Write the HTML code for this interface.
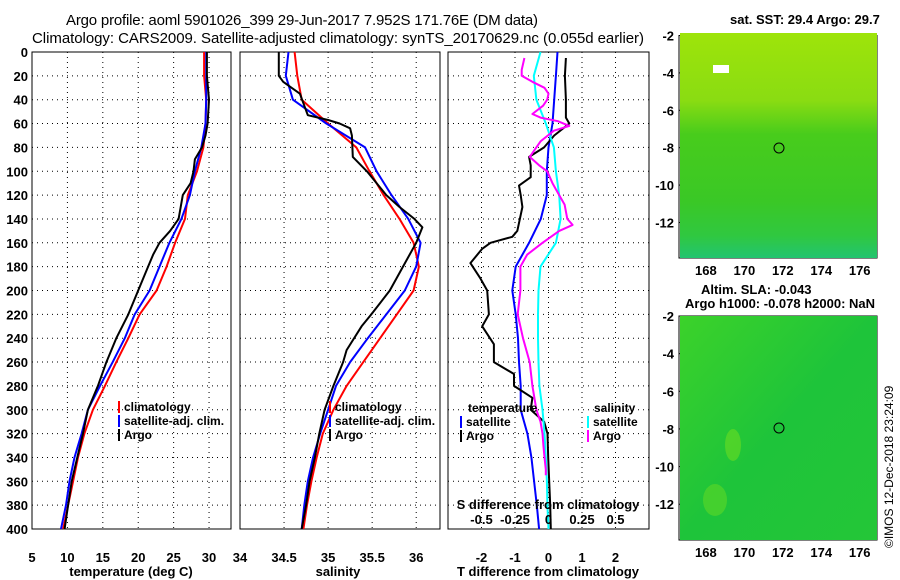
<!DOCTYPE html>
<html><head><meta charset="utf-8"><style>
html,body{margin:0;padding:0;background:#fff;}
svg{display:block;font-family:"Liberation Sans",sans-serif;}
.tk{font-size:13px;font-weight:bold;fill:#000;}
.lg{font-size:12px;font-weight:bold;fill:#000;}
</style></head><body>
<svg id="chart" width="900" height="580" viewBox="0 0 900 580">
<defs>
<linearGradient id="sstg" x1="0" y1="0" x2="0" y2="1">
<stop offset="0" stop-color="#9ee40a"/><stop offset="0.3" stop-color="#8adc12"/><stop offset="0.45" stop-color="#48cc1c"/><stop offset="0.75" stop-color="#3ac826"/><stop offset="0.9" stop-color="#30c840"/><stop offset="1" stop-color="#22c470"/>
</linearGradient>
<linearGradient id="slag" x1="0" y1="0" x2="1" y2="1">
<stop offset="0" stop-color="#3cd22a"/><stop offset="0.5" stop-color="#1ec43a"/><stop offset="1" stop-color="#24c638"/>
</linearGradient>
</defs>
<text x="66" y="25" font-size="15" textLength="472">Argo profile: aoml 5901026_399 29-Jun-2017 7.952S 171.76E (DM data)</text>
<text x="32" y="43" font-size="15" textLength="612">Climatology: CARS2009. Satellite-adjusted climatology: synTS_20170629.nc (0.055d earlier)</text>
<g id="plots"></g>
<g>
<text x="730" y="24" font-size="13" font-weight="bold">sat. SST: 29.4 Argo: 29.7</text>
<rect x="680" y="33" width="197" height="225" fill="url(#sstg)"/>
<rect x="713" y="65" width="16" height="8" fill="#fff"/>
<circle cx="779" cy="148" r="5" fill="none" stroke="#000"/>
</g>
<g>
<text x="701" y="294" font-size="13" font-weight="bold">Altim. SLA: -0.043</text>
<text x="685" y="308" font-size="13" font-weight="bold">Argo h1000: -0.078 h2000: NaN</text>
<rect x="680" y="316" width="197" height="224" fill="url(#slag)"/>
<ellipse cx="733" cy="445" rx="8" ry="16" fill="#6adc22" opacity="0.6"/>
<ellipse cx="715" cy="500" rx="12" ry="16" fill="#6adc22" opacity="0.5"/>
<circle cx="779" cy="428" r="5" fill="none" stroke="#000"/>
</g>
<text transform="translate(893,548) rotate(-90)" font-size="12">©IMOS 12-Dec-2018 23:24:09</text>
</svg>
<script>
const depths=[0,20,40,60,80,100,120,140,160,180,200,220,240,260,280,300,320,340,360,380,400];
const tempClim=[29.3,29.3,29.6,29.5,29.2,28.3,27.0,26.6,25.2,24.0,22.6,20.2,18.6,16.9,15.3,13.6,12.4,11.5,10.8,10.1,9.4];
const tempSat=[29.6,29.6,29.6,29.5,28.9,28.0,27.3,26.1,24.4,23.0,21.6,19.5,18.1,16.4,14.6,12.9,12.0,11.0,10.3,9.8,9.1];
const argoDepths=[0,20,40,60,70,80,90,100,110,120,140,150,160,170,180,200,220,240,260,280,300,320,340,360,380,400];
const tempArgo=[29.7,29.7,30.0,29.8,29.5,29.0,28.0,27.8,27.4,26.3,25.7,24.5,23.0,22.1,21.4,20.0,18.6,16.9,15.5,14.3,12.9,12.2,11.4,10.6,10.1,9.6];
const salClim=[34.62,34.65,34.70,35.0,35.32,35.47,35.63,35.81,35.97,36.03,35.97,35.78,35.59,35.40,35.21,35.06,34.94,34.87,34.81,34.76,34.72];
const salSat=[34.55,34.52,34.60,34.98,35.42,35.55,35.72,35.91,36.05,36.00,35.87,35.66,35.45,35.25,35.09,35.0,34.91,34.83,34.77,34.73,34.70];
const salArgoDepths=[0,20,25,35,45,53,57,60,64,70,88,100,120,130,140,147,160,180,200,220,230,250,260,280,300,320,340,360,380,400];
const salArgo=[34.44,34.44,34.49,34.68,34.73,34.77,35.0,35.13,35.25,35.27,35.28,35.44,35.66,35.81,35.98,36.07,36.0,35.85,35.70,35.49,35.38,35.21,35.17,35.06,34.96,34.90,34.85,34.79,34.75,34.70];
const dTSat=[0.27,0.22,0.17,0.12,0,-0.05,-0.05,-0.23,-0.58,-0.98,-1.08,-0.98,-0.91,-0.88,-0.83,-0.83,-0.63,-0.51,-0.43,-0.35,-0.28];
const dTArgoDepths=[5,20,40,55,60,70,80,88,95,105,112,120,130,150,155,160,165,177,190,200,220,230,245,260,270,280,290,300,310,320,340,360,380,400];
const dTArgo=[0.52,0.49,0.52,0.52,0.62,0.17,-0.13,-0.58,-0.53,-0.53,-0.88,-0.83,-0.78,-0.93,-1.08,-1.73,-1.98,-2.33,-2.03,-1.83,-1.78,-1.98,-1.63,-1.63,-1.03,-1.03,-0.48,-0.53,-0.13,-0.03,-0.01,0.02,0.05,0.07];
const dSSat=[-0.06,-0.11,-0.09,-0.02,0.04,0.055,0.08,0.09,0.055,-0.06,-0.075,-0.078,-0.078,-0.075,-0.068,-0.045,-0.03,-0.02,-0.012,-0.008,0];
const dSArgoDepths=[5,15,20,25,30,35,40,45,52,55,58,62,66,75,88,95,100,110,120,128,140,145,150,160,170,180,200,220,240,260,280,300,310,320,330,340,350,355];
const dSArgo=[-0.18,-0.2,-0.2,-0.12,-0.03,0,-0.01,-0.04,-0.12,-0.06,0.07,0.155,0.04,-0.06,-0.14,-0.07,-0.01,0.03,0.08,0.12,0.14,0.18,0.08,-0.045,-0.16,-0.21,-0.21,-0.23,-0.19,-0.14,-0.12,-0.09,-0.06,-0.045,-0.038,-0.03,-0.02,-0.02];
const depthTicks=[0,20,40,60,80,100,120,140,160,180,200,220,240,260,280,300,320,340,360,380,400];
const tempTicks=[5,10,15,20,25,30];
const salTicks=[34,34.5,35,35.5,36];
const dTTicks=[-2,-1,0,1,2];
const dSTicks=[-0.5,-0.25,0,0.25,0.5];
const dSTickLabels=["-0.5","-0.25","0","0.25","0.5"];

const NS='http://www.w3.org/2000/svg';
const root=document.getElementById('plots');
const Y0=52,Y1=529;
const yD=d=>Y0+(d/400)*(Y1-Y0);
function mk(tag,attrs,parent){const e=document.createElementNS(NS,tag);for(const k in attrs)e.setAttribute(k,attrs[k]);(parent||root).appendChild(e);return e;}
function txt(x,y,s,anchor,cls,parent){const e=mk('text',{x:x,y:y,'text-anchor':anchor||'start','class':cls||'tk'},parent);e.textContent=s;return e;}
function panel(name,L,R,xmin,xmax){
  const g=mk('g',{});
  
  
  const sx=v=>L+(v-xmin)/(xmax-xmin)*(R-L);
  return {g,sx,L,R};
}
function grid(p,xt){
  depthTicks.forEach(d=>{if(d>0&&d<400){const l=mk('line',{x1:p.L,x2:p.R,y1:yD(d),y2:yD(d),stroke:'#000','stroke-width':1,'stroke-dasharray':'1,4'},p.g);}});
  xt.forEach(v=>{const x=p.sx(v);if(x>p.L+1&&x<p.R-1){const l=mk('line',{x1:x,x2:x,y1:Y0,y2:Y1,stroke:'#000','stroke-width':1,'stroke-dasharray':'1,4'},p.g);}});
  const r=mk('rect',{x:p.L,y:Y0,width:p.R-p.L,height:Y1-Y0,fill:'none',stroke:'#000','stroke-width':1},p.g);
  
  
}
function line(p,xs,ds,color,name,w){
  const pts=xs.map((v,i)=>p.sx(v).toFixed(1)+','+yD(ds[i]).toFixed(1)).join(' ');
  const e=mk('polyline',{points:pts,fill:'none',stroke:color,'stroke-width':w||2,'stroke-linejoin':'round'},p.g);
  
  
}
function legend(p,x,y,items){
  items.forEach((it,i)=>{
    const yy=y+i*14;
    const b=mk('rect',{x:x,y:yy-10,width:2,height:12,fill:it[1]},p.g);
    
    
    const t=txt(x+6,yy,it[0],'start','lg',p.g);
    
    
  });
}
depthTicks.forEach(d=>{const t=txt(28,yD(d)+5,String(d),'end');});

const TY=562, AY=576;
const pT=panel('temperature-panel',32,231,5,33.1);
grid(pT,tempTicks);
line(pT,tempClim,depths,'#f00','climatology-temp-line');
line(pT,tempSat,depths,'#00f','satellite-temp-line');
line(pT,tempArgo,argoDepths,'#000','argo-temp-line');
tempTicks.forEach(v=>{const t=txt(pT.sx(v),TY,String(v),'middle','tk',pT.g);});
{const t=txt(131,AY,'temperature (deg C)','middle','tk',pT.g);}
legend(pT,118,411,[['climatology','#f00'],['satellite-adj. clim.','#00f'],['Argo','#000']]);

const pS=panel('salinity-panel',240,440,34,36.27);
grid(pS,salTicks);
line(pS,salClim,depths,'#f00','climatology-salinity-line');
line(pS,salSat,depths,'#00f','satellite-salinity-line');
line(pS,salArgo,salArgoDepths,'#000','argo-salinity-line');
salTicks.forEach(v=>{const t=txt(pS.sx(v),TY,String(v),'middle','tk',pS.g);});
{const t=txt(338,AY,'salinity','middle','tk',pS.g);}
legend(pS,329,411,[['climatology','#f00'],['satellite-adj. clim.','#00f'],['Argo','#000']]);

const pD=panel('difference-panel',448,649,-3,3);
const sS=v=>pD.sx(v*4);
grid(pD,dTTicks);
line(pD,dTSat,depths,'#00f','satellite-temp-diff-line');
line(pD,dTArgo,dTArgoDepths,'#000','argo-temp-diff-line');
line(pD,dSSat.map(v=>v*4),depths,'#0ff','satellite-salinity-diff-line');
line(pD,dSArgo.map(v=>v*4),dSArgoDepths,'#f0f','argo-salinity-diff-line');
dTTicks.forEach(v=>{const t=txt(pD.sx(v),TY,String(v),'middle','tk',pD.g);});
dSTicks.forEach((v,i)=>{const t=txt(sS(v),524,dSTickLabels[i],'middle','tk',pD.g);});
{const t=txt(548,509,'S difference from climatology','middle','tk',pD.g);}
{const t=txt(548,AY,'T difference from climatology','middle','tk',pD.g);}
{const t=txt(468,412,'temperature','start','lg',pD.g);}
{const t=txt(594,412,'salinity','start','lg',pD.g);}
legend(pD,460,426,[['satellite','#00f'],['Argo','#000']]);
legend(pD,587,426,[['satellite','#0ff'],['Argo','#f0f']]);

const lonTicks=[168,170,172,174,176];
const latTicks=[-2,-4,-6,-8,-10,-12];
function mapAxes(name,top,bot){
  const g=mk('g',{});
  
  
  const L=679,R=877;
  const lx=v=>L+(v-166.6)/(176.9-166.6)*(R-L);
  const ly=v=>top+(-2-v)/(11.9)*(bot-top);
  const r=mk('rect',{x:L,y:top,width:R-L,height:bot-top,fill:'none',stroke:'#000'},g);
  
  
  lonTicks.forEach(v=>{mk('line',{x1:lx(v),x2:lx(v),y1:bot,y2:bot-3,stroke:'#000'},g);mk('line',{x1:lx(v),x2:lx(v),y1:top,y2:top+3,stroke:'#000'},g);const t=txt(lx(v),bot+17,String(v),'middle','tk',g);});
  latTicks.forEach(v=>{mk('line',{x1:L,x2:L+3,y1:ly(v),y2:ly(v),stroke:'#000'},g);mk('line',{x1:R,x2:R-3,y1:ly(v),y2:ly(v),stroke:'#000'},g);const t=txt(L-5,ly(v)+5,String(v),'end','tk',g);});
}
mapAxes('sst-map-axes',35.5,258);
mapAxes('sla-map-axes',316,540);
</script>
</body></html>
